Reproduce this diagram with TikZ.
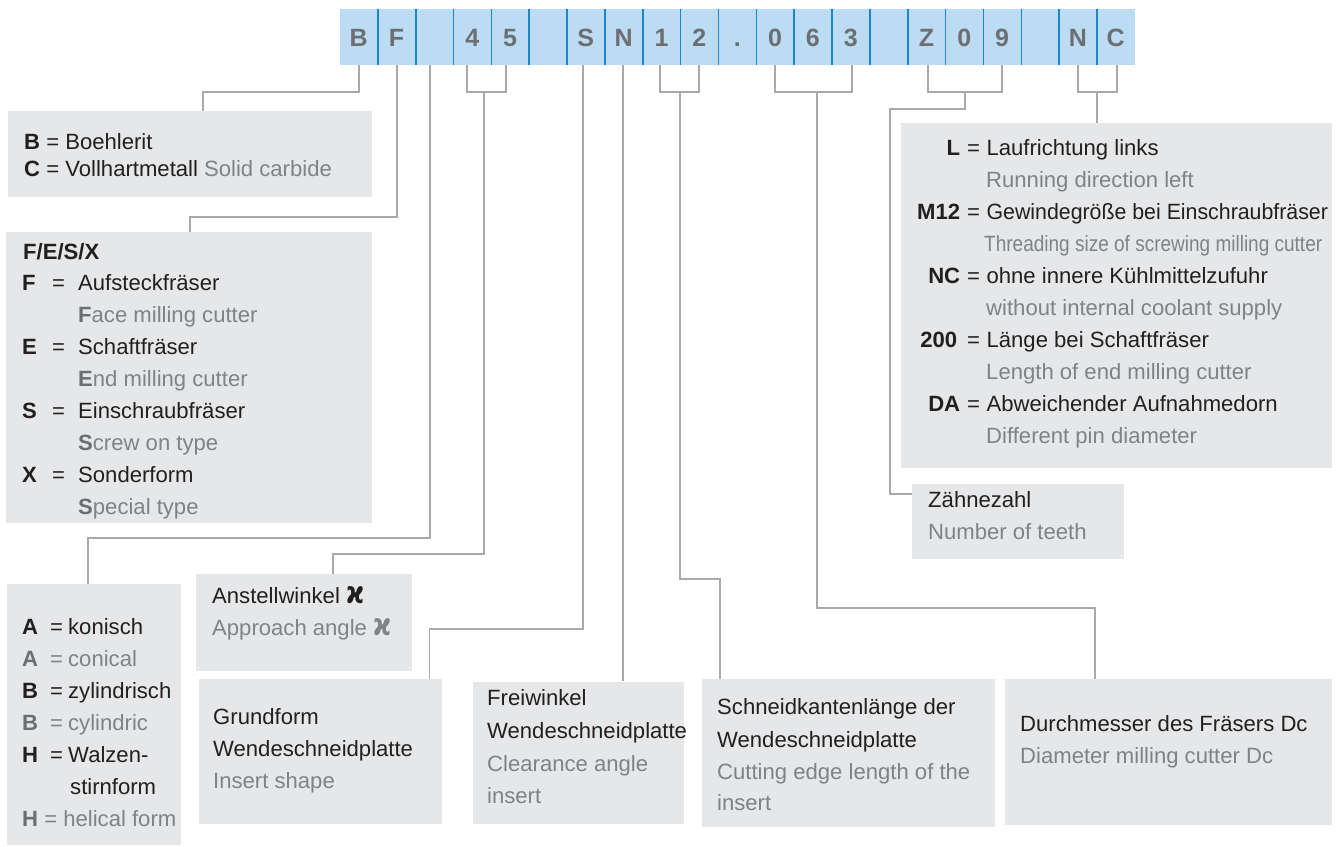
\documentclass[tikz,border=0pt]{standalone}
\usepackage{fontspec}
\usepackage{graphicx}
\setmainfont{Liberation Sans}
\newfontfamily\kapfont{DejaVu Sans}
\usetikzlibrary{calc}
\definecolor{barfill}{HTML}{BBDCF3}
\definecolor{sepcol}{HTML}{1B87C9}
\definecolor{bartext}{HTML}{6D6E71}
\definecolor{boxfill}{HTML}{E6E7E8}
\definecolor{conncol}{HTML}{A7A9AC}
\definecolor{txtblack}{HTML}{231F20}
\definecolor{txtgrey}{HTML}{808285}
\definecolor{boldgrey}{HTML}{6D6E71}
\newcommand{\kap}{{\kapfont\bfseries\raisebox{0pt}{\scalebox{1.1}[1.4]{ϰ}}}}
\newcommand{\gb}[1]{{\color{boldgrey}\bfseries #1}}
\begin{document}
\begin{tikzpicture}[x=1pt,y=-1pt,
  cell/.style={inner sep=0pt,minimum width=37.85pt,minimum height=55.7pt,fill=barfill,
    text=bartext,font=\fontsize{25}{25}\selectfont\bfseries,text height=18pt,text depth=0pt},
  sepline/.style={draw=sepcol,line width=1.6pt},
  box/.style={fill=boxfill,inner sep=0pt,anchor=north west},
  conn/.style={draw=conncol,line width=1.8pt},
  txt/.style={anchor=base west,inner sep=0pt,text=txtblack,font=\fontsize{22.1}{25}\selectfont},
  gtxt/.style={txt,text=txtgrey}]
\useasboundingbox (0,0) rectangle (1341,846);

% code bar
\foreach \i/\t in {0/B,1/F,2/{},3/4,4/5,5/{},6/S,7/N,8/1,9/2,10/.,11/0,12/6,13/3,14/{},15/Z,16/0,17/9,18/{},19/N,20/C}
  \node[cell] (c\i) at ({339.8+37.85*(\i+0.5)},37.15) {\t};
\foreach \i in {0,...,19}
  \draw[sepline] (c\i.north east) -- (c\i.south east);

% boxes
\node[box,minimum width=364pt,minimum height=86pt] (b1) at (8,111) {};
\node[box,minimum width=366pt,minimum height=291pt] (b2) at (6,232) {};
\node[box,minimum width=174pt,minimum height=261pt] (b3) at (7,584) {};
\node[box,minimum width=215.7pt,minimum height=96.7pt] (b4) at (196,574) {};
\node[box,minimum width=243.4pt,minimum height=145pt] (b5) at (198.3,679) {};
\node[box,minimum width=211.3pt,minimum height=142.7pt] (b6) at (472.3,681.3) {};
\node[box,minimum width=293pt,minimum height=148pt] (b7) at (702,679) {};
\node[box,minimum width=327pt,minimum height=146pt] (b8) at (1005,679) {};
\node[box,minimum width=212pt,minimum height=75pt] (b9) at (912,484) {};
\node[box,minimum width=431pt,minimum height=345pt] (b10) at (901,123) {};

% connectors
\draw[conn] (c0.south -| 359.3,0) -- (359.3,92.3) -| (b1.north -| 203,0);
\draw[conn] (c1.south -| 397.3,0) -- (397.3,217) -| (b2.north -| 190,0);
\draw[conn] (c2.south -| 430,0) -- (430,538) -| (b3.north -| 88,0);
\draw[conn] (c3.south -| 466.7,0) |- (505.7,92.3) -- (c4.south -| 505.7,0);
\draw[conn] (484.3,92.3) -- (484.3,554) -| (b4.north -| 333.3,0);
\draw[conn] (c6.south -| 583,0) -- (583,629) -| (b5.north -| 429.5,0);
\draw[conn] (c7.south -| 622.7,0) -- (b6.north -| 622.7,0);
\draw[conn] (c8.south -| 660,0) |- (698.7,92.3) -- (c9.south -| 698.7,0);
\draw[conn] (680,92.3) -- (680,579) -| (b7.north -| 720,0);
\draw[conn] (c11.south -| 775,0) |- (851.7,92.3) -- (c13.south -| 851.7,0);
\draw[conn] (816.7,92.3) -- (816.7,608) -| (b8.north -| 1095,0);
\draw[conn] (c15.south -| 928.3,0) |- (1002.3,92.3) -- (c17.south -| 1002.3,0);
\draw[conn] (965,92.3) -- (965,109) -| (890,494) -- (b9.west |- 0,494);
\draw[conn] (c19.south -| 1077.7,0) |- (1116.7,92.3) -- (c20.south -| 1116.7,0);
\draw[conn] (1097.3,92.3) -- (b10.north -| 1097.3,0);

% box 1
\node[txt] (t1a) at (24,149) {\textbf{B} = Boehlerit};
\node[txt] (t1b) at (24,176) {\textbf{C} = Vollhartmetall {\color{txtgrey}Solid carbide}};

% box 2
\node[txt] (t2h) at (23,259) {\textbf{F/E/S/X}};
\node[txt] (t2a) at (22,290) {\makebox[30pt][l]{\textbf{F}}\makebox[26pt][l]{=}Aufsteckfräser};
\node[gtxt] (t2b) at (78,322) {\gb{F}ace milling cutter};
\node[txt] (t2c) at (22,354) {\makebox[30pt][l]{\textbf{E}}\makebox[26pt][l]{=}Schaftfräser};
\node[gtxt] (t2d) at (78,386) {\gb{E}nd milling cutter};
\node[txt] (t2e) at (22,418) {\makebox[30pt][l]{\textbf{S}}\makebox[26pt][l]{=}Einschraubfräser};
\node[gtxt] (t2f) at (78,450) {\gb{S}crew on type};
\node[txt] (t2g) at (22,482) {\makebox[30pt][l]{\textbf{X}}\makebox[26pt][l]{=}Sonderform};
\node[gtxt] (t2h2) at (78,514) {\gb{S}pecial type};

% box 3
\node[txt] (t3a) at (22,634) {\makebox[28pt][l]{\textbf{A}}\makebox[18pt][l]{=}konisch};
\node[gtxt] (t3b) at (22,666) {\makebox[28pt][l]{\gb{A}}\makebox[18pt][l]{=}conical};
\node[txt] (t3c) at (22,698) {\makebox[28pt][l]{\textbf{B}}\makebox[18pt][l]{=}zylindrisch};
\node[gtxt] (t3d) at (22,730) {\makebox[28pt][l]{\gb{B}}\makebox[18pt][l]{=}cylindric};
\node[txt] (t3e) at (22,762) {\makebox[28pt][l]{\textbf{H}}\makebox[18pt][l]{=}Walzen-};
\node[txt] (t3f) at (70,794) {stirnform};
\node[gtxt] (t3g) at (22,826) {\gb{H} = helical form};

% box 4
\node[txt] (t4a) at (212,603) {Anstellwinkel \kap};
\node[gtxt] (t4b) at (212,635) {Approach angle \kap};

% box 5
\node[txt] (t5a) at (213,724) {Grundform};
\node[txt] (t5b) at (213,756) {Wendeschneidplatte};
\node[gtxt] (t5c) at (213,788) {Insert shape};

% box 6
\node[txt] (t6a) at (487,705) {Freiwinkel};
\node[txt] (t6b) at (487,738) {Wendeschneidplatte};
\node[gtxt] (t6c) at (487,771) {Clearance angle};
\node[gtxt] (t6d) at (487,803) {insert};

% box 7
\node[txt] (t7a) at (717,714) {Schneidkantenlänge der};
\node[txt] (t7b) at (717,747) {Wendeschneidplatte};
\node[gtxt] (t7c) at (717,779) {Cutting edge length of the};
\node[gtxt] (t7d) at (717,810) {insert};

% box 8
\node[txt] (t8a) at (1020,731) {Durchmesser des Fräsers Dc};
\node[gtxt] (t8b) at (1020,763) {Diameter milling cutter Dc};

% box 9
\node[txt] (t9a) at (928,507) {Zähnezahl};
\node[gtxt] (t9b) at (928,539) {Number of teeth};

% box 10
\node[txt] (t10a) at (900,155) {\makebox[60pt][r]{\textbf{L}}\hspace{7pt}=\hspace{6.5pt}Laufrichtung links};
\node[gtxt] (t10b) at (986,187) {Running direction left};
\node[txt] (t10c) at (900,219) {\makebox[60pt][r]{\textbf{M12}}\hspace{7pt}=\hspace{6.5pt}\scalebox{0.965}[1]{Gewindegröße bei Einschraubfräser}};
\node[gtxt] (t10d) at (984,251) {\scalebox{0.86}[1]{Threading size of screwing milling cutter}};
\node[txt] (t10e) at (900,283) {\makebox[60pt][r]{\textbf{NC}}\hspace{7pt}=\hspace{6.5pt}ohne innere Kühlmittelzufuhr};
\node[gtxt] (t10f) at (986,315) {without internal coolant supply};
\node[txt] (t10g) at (900,347) {\makebox[57pt][r]{\textbf{200}}\hspace{10pt}=\hspace{6.5pt}Länge bei Schaftfräser};
\node[gtxt] (t10h) at (986,379) {Length of end milling cutter};
\node[txt] (t10i) at (900,411) {\makebox[60pt][r]{\textbf{DA}}\hspace{7pt}=\hspace{6.5pt}Abweichender Aufnahmedorn};
\node[gtxt] (t10j) at (986,443) {Different pin diameter};
\end{tikzpicture}
\end{document}
